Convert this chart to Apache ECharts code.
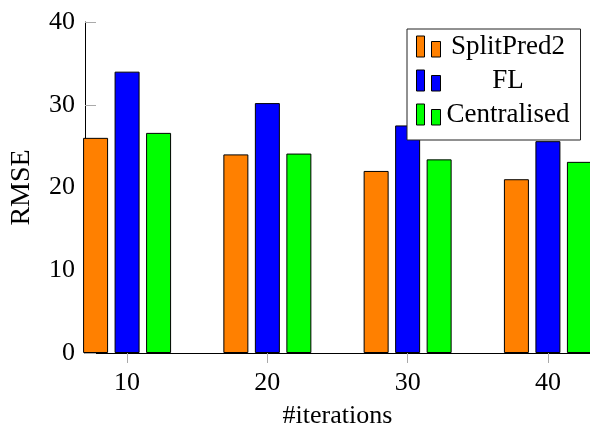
<!DOCTYPE html>
<html>
<head>
<meta charset="utf-8">
<script src="https://cdn.jsdelivr.net/npm/echarts@6/dist/echarts.min.js"></script>
<style>
html, body { margin: 0; padding: 0; background: #fff; }
#chart { width: 590px; height: 434px; }
</style>
</head>
<body>
<div id="chart"></div>
<script>
// iterations on the x axis
const iterations = [10, 20, 30, 40]
const seriesNames = ['SplitPred2', 'FL', 'Centralised']
const splitPred2 = [26, 24, 22, 21]
const fl = [34, 30.2, 27.5, 25.6]
const centralised = [26.6, 24.1, 23.4, 23.1]
const yTicks = [0, 10, 20, 30, 40]

const colors = ['#FF8000', '#0000FF', '#00FF00']
const font = '"Liberation Serif", "DejaVu Serif", serif'

let myChart = echarts.init(document.getElementById('chart'))
let allData = [splitPred2, fl, centralised]
let seriesData = []
for (let i = 0; i < seriesNames.length; i++) {
    seriesData.push({
        name: seriesNames[i],
        type: 'bar',
        barWidth: 25,
        barGap: '26%',
        itemStyle: { color: colors[i], borderColor: '#000', borderWidth: 1 },
        data: iterations.map((x, j) => [x, allData[i][j]])
    })
}

let option = {
    animation: false,
    textStyle: { fontFamily: font },
    grid: { left: 83, right: 0, top: 22, bottom: 78 },
    legend: {
        orient: 'vertical',
        left: 407,
        top: 29,
        padding: [4, 10, 12, 9],
        itemGap: 7,
        itemWidth: 24,
        itemHeight: 21,
        itemStyle: { borderColor: '#000', borderWidth: 1 },
        icon: 'path://M0,0 H8 V21 H0 Z M15,5.5 H24 V21 H15 Z',
        backgroundColor: '#fff',
        borderColor: '#222',
        borderWidth: 1,
        formatter: name => '{a|' + name + '}',
        textStyle: {
            rich: {
                a: { width: 125, align: 'center', fontSize: 27, lineHeight: 21, fontFamily: font, color: '#000' }
            }
        },
        data: seriesNames
    },
    xAxis: {
        type: 'value',
        min: 7,
        max: 43,
        name: '#iterations',
        nameLocation: 'middle',
        nameGap: 50,
        nameTextStyle: { fontSize: 26, color: '#000', fontFamily: font },
        axisLine: { show: true, lineStyle: { color: '#000', width: 1 } },
        axisTick: { show: true, length: 10, customValues: iterations, lineStyle: { color: '#aaa' } },
        axisLabel: { customValues: iterations, fontSize: 26, color: '#000', margin: 17, fontFamily: font },
        splitLine: { show: false }
    },
    yAxis: {
        type: 'value',
        min: 0,
        max: 40,
        interval: 10,
        name: 'RMSE',
        nameLocation: 'middle',
        nameRotate: 90,
        nameGap: 49,
        nameTextStyle: { fontSize: 28, color: '#000', fontFamily: font },
        axisLine: { show: true, lineStyle: { color: '#000', width: 1 } },
        axisTick: { show: true, inside: true, length: 11, lineStyle: { color: '#aaa' } },
        axisLabel: { fontSize: 26, color: '#000', margin: 10, fontFamily: font },
        splitLine: { show: false }
    },
    series: seriesData
}
myChart.setOption(option)
window.addEventListener('resize', function() {
    myChart.resize()
})
</script>
</body>
</html>
